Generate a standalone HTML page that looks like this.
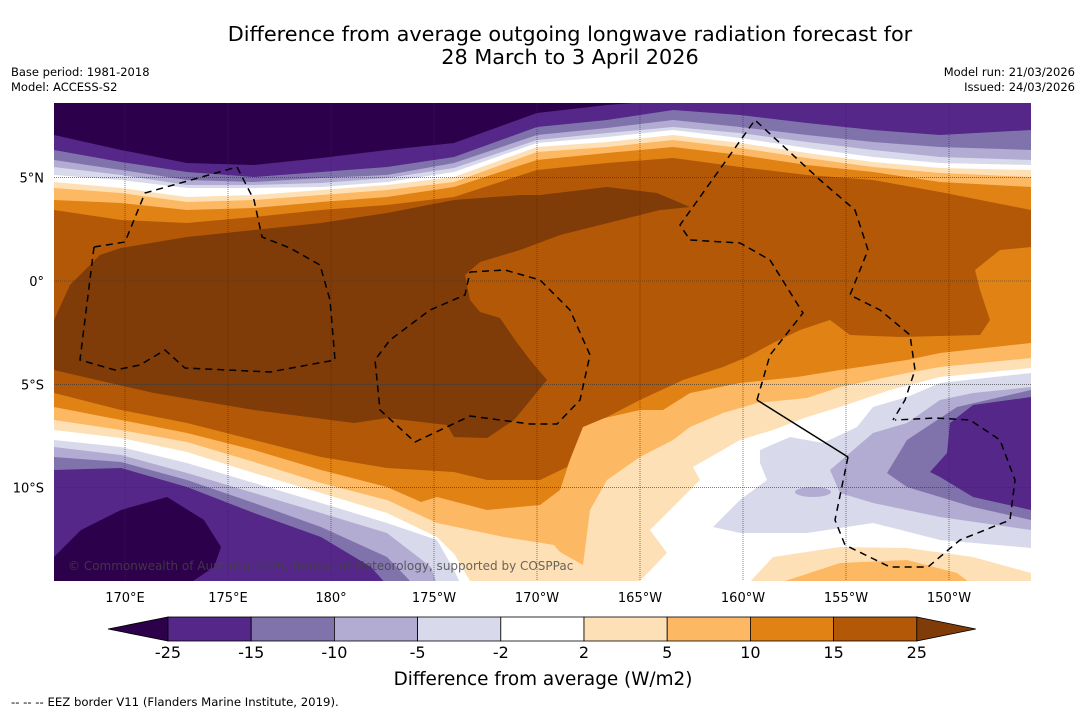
<!DOCTYPE html>
<html><head><meta charset="utf-8">
<style>
body{margin:0;background:#fff;width:1085px;height:713px;overflow:hidden;font-family:"DejaVu Sans","Liberation Sans",sans-serif}
svg{position:absolute;left:0;top:0;font-family:"DejaVu Sans","Liberation Sans",sans-serif}
</style></head>
<body>
<svg id="chart" width="1085" height="713" viewBox="0 0 1085 713">
<defs><clipPath id="mapclip"><rect x="54" y="103" width="977" height="478"/></clipPath></defs>
<text x="570" y="41" font-size="20.8" text-anchor="middle">Difference from average outgoing longwave radiation forecast for</text>
<text x="570" y="64" font-size="20.8" text-anchor="middle">28 March to 3 April 2026</text>
<text x="11" y="76" font-size="11.5">Base period: 1981-2018</text>
<text x="11" y="91" font-size="11.5">Model: ACCESS-S2</text>
<text x="1075" y="76" font-size="11.5" text-anchor="end">Model run: 21/03/2026</text>
<text x="1075" y="91" font-size="11.5" text-anchor="end">Issued: 24/03/2026</text>
<g id="map" clip-path="url(#mapclip)"></g>
<g id="axes"></g>
<g id="cbar"></g>
<text x="543" y="685" font-size="18.4" text-anchor="middle">Difference from average (W/m2)</text>
<text x="11" y="706" font-size="11.7">--  --  -- EEZ border V11 (Flanders Marine Institute, 2019).</text>
</svg>
<script>
const NS="http://www.w3.org/2000/svg";
// ---- data arrays ----
const lonTicks=[170,175,180,185,190,195,200,205,210];
const lonLabels=["170°E","175°E","180°","175°W","170°W","165°W","160°W","155°W","150°W"];
const latTicks=[5,0,-5,-10];
const latLabels=["5°N","0°","5°S","10°S"];
const cbarLevels=[-25,-15,-10,-5,-2,2,5,10,15,25];
const cbarColors=["#542788","#8073ac","#b2abd2","#d8daeb","#ffffff","#fee0b6","#fdb863","#e08214","#b35806"];
const cbarLow="#2d004b", cbarHigh="#7f3b08";
const topX=[54,121,187,254,321,387,454,537,607,673,740,807,873,940,1031];
const topBands=[
 ["#e08214",[210,220,223,217,210,205,197,170,163,158,167,175,180,192,210]],
 ["#fdb863",[200,203,210,208,202,197,187,160,153,147,155,165,172,182,187]],
 ["#fee0b6",[188,193,202,200,195,190,182,152,147,140,148,158,167,173,177]],
 ["#ffffff",[182,188,197,195,190,185,177,147,142,135,143,153,162,168,170]],
 ["#d8daeb",[175,180,188,188,187,182,172,143,137,130,138,148,157,163,165]],
 ["#b2abd2",[167,175,185,185,183,178,168,140,133,127,133,142,150,157,160]],
 ["#8073ac",[160,170,180,182,178,175,163,135,128,120,127,135,142,147,150]],
 ["#542788",[150,162,172,177,172,167,157,127,120,110,115,123,130,135,130]],
 ["#2d004b",[135,150,163,165,158,150,143,113,105,100,100,100,100,100,100]]
];
// ---- axis functions ----
const X0=54,X1=1031,Y0=103,Y1=581;
function xLon(l){return 125+(l-170)*20.6;}
function yLat(l){return 281-l*20.66;}
const map=document.getElementById('map');
function poly(pts,fill,name){
 const p=document.createElementNS(NS,'polygon');
 p.setAttribute('points',pts.map(q=>q.join(',')).join(' '));
 p.setAttribute('fill',fill);
 
 
 map.appendChild(p);return p;}
function line(pts,dash,name){
 const p=document.createElementNS(NS,'polyline');
 p.setAttribute('points',pts.map(q=>q.join(',')).join(' '));
 p.setAttribute('fill','none');p.setAttribute('stroke','#000');p.setAttribute('stroke-width','1.5');
 if(dash)p.setAttribute('stroke-dasharray','7,5');
 
 
 map.appendChild(p);}
map.innerHTML='<rect x="54" y="103" width="977" height="478" fill="#fff"/>';
poly([[54,100],[1031,100],[1031,368],[940,377],[890,390],[840,407],[807,417],[773,430],[740,440],[693,467],[700,480],[650,530],[667,553],[640,581],[470,581],[455,555],[437,537],[387,513],[321,493],[254,473],[187,452],[121,438],[54,430]],"#fee0b6","contour-2-5");
poly([[54,100],[1031,100],[1031,358],[940,367],[907,373],[840,387],[807,398],[757,403],[723,413],[690,427],[673,440],[640,457],[607,480],[590,510],[583,565],[560,552],[554,545],[504,537],[437,523],[387,500],[321,483],[254,462],[187,442],[121,430],[54,420]],"#fdb863","contour-5-10");
poly([[54,100],[1031,100],[1031,343],[940,353],[907,360],[840,370],[797,377],[740,383],[690,393],[663,410],[640,410],[583,423],[570,460],[560,490],[540,505],[487,510],[437,497],[421,502],[387,487],[321,470],[254,450],[187,433],[121,420],[54,407]],"#e08214","contour-10-15");
poly([[54,100],[1031,100],[1031,247],[1000,250],[975,270],[980,290],[990,320],[980,335],[900,337],[850,335],[830,320],[800,330],[773,343],[747,357],[723,367],[683,380],[640,400],[607,417],[583,427],[567,467],[540,480],[487,480],[454,472],[387,468],[321,457],[254,440],[187,423],[121,410],[54,393]],"#b35806","contour-15-25");
poly([[54,320],[70,285],[100,255],[121,248],[187,237],[254,230],[321,223],[387,213],[454,200],[521,195],[540,195],[607,187],[657,193],[690,207],[660,210],[600,225],[560,235],[520,250],[480,262],[465,275],[470,300],[480,312],[500,318],[515,340],[530,360],[547,380],[514,420],[487,438],[454,437],[447,425],[387,418],[354,423],[254,410],[154,393],[97,380],[54,370]],"#7f3b08","contour-above-25");
topBands.forEach(b=>{
 const pts=[[54,90]];topX.forEach((x,i)=>pts.push([x,b[1][i]]));pts.push([1031,90]);
 poly(pts,b[0],"top-band");
});
poly([[54,440],[121,447],[187,463],[254,483],[321,503],[387,523],[437,540],[454,570],[461,585],[54,585]],"#d8daeb","sw-band-5-2");
poly([[54,447],[121,455],[187,473],[254,493],[321,513],[387,533],[431,567],[437,585],[54,585]],"#b2abd2","sw-band-10-5");
poly([[54,457],[121,462],[187,480],[254,503],[321,527],[387,557],[414,585],[54,585]],"#8073ac","sw-band-15-10");
poly([[54,470],[121,468],[187,487],[254,513],[321,537],[371,567],[387,585],[54,585]],"#542788","sw-band-25-15");
poly([[54,557],[81,530],[121,510],[167,497],[204,520],[221,547],[214,567],[187,585],[54,585]],"#2d004b","sw-band-below-25");
poly([[747,585],[773,557],[840,547],[907,548],[973,557],[1031,573],[1031,585]],"#fee0b6","se-band-2-5");
poly([[773,585],[840,563],[907,560],[957,573],[973,585]],"#fdb863","se-band-5-10");
poly([[760,450],[790,437],[823,443],[857,427],[873,407],[907,397],[940,383],[1031,373],[1031,548],[940,540],[873,523],[807,533],[740,533],[713,527],[740,500],[767,480],[760,463]],"#d8daeb","se-band-5-2");
poly([[830,470],[873,433],[907,423],[940,400],[973,393],[1031,387],[1031,530],[940,517],[873,503],[840,493]],"#b2abd2","se-band-10-5");
poly([[887,473],[907,440],[957,407],[1031,390],[1031,520],[973,507],[907,487]],"#8073ac","se-band-15-10");
poly([[930,472],[947,453],[950,423],[973,405],[1031,397],[1031,510],[973,497],[940,477]],"#542788","se-band-25-15");
const el=document.createElementNS(NS,'ellipse');
el.setAttribute('cx','813');el.setAttribute('cy','492');el.setAttribute('rx','18');el.setAttribute('ry','5');el.setAttribute('fill','#b2abd2');


map.appendChild(el);
lonTicks.forEach(l=>{const g=document.createElementNS(NS,'line');
 g.setAttribute('x1',xLon(l));g.setAttribute('x2',xLon(l));g.setAttribute('y1',Y0);g.setAttribute('y2',Y1);
 g.setAttribute('stroke','#333');g.setAttribute('stroke-width','0.6');g.setAttribute('stroke-dasharray','1,1');
 
 
 map.appendChild(g);});
latTicks.forEach(l=>{const g=document.createElementNS(NS,'line');
 g.setAttribute('x1',X0);g.setAttribute('x2',X1);g.setAttribute('y1',yLat(l));g.setAttribute('y2',yLat(l));
 g.setAttribute('stroke','#333');g.setAttribute('stroke-width','0.6');g.setAttribute('stroke-dasharray','1,1');
 
 
 map.appendChild(g);});
line([[94,247],[125,242],[145,193],[237,167],[254,200],[262,237],[290,248],[320,265],[330,300],[335,360],[270,372],[185,368],[165,350],[140,365],[115,370],[80,360],[94,247]],true,"eez-gilbert");
line([[470,272],[505,270],[540,280],[570,310],[590,355],[580,400],[557,424],[530,424],[470,416],[415,442],[380,410],[375,360],[390,340],[430,310],[465,295],[470,272]],true,"eez-phoenix");
line([[757,400],[770,355],[803,313],[770,260],[740,243],[690,240],[680,225],[755,120],[820,180],[855,210],[868,250],[850,295],[880,310],[910,335],[915,370],[905,400],[893,420]],true,"eez-line-islands");
line([[757,400],[848,457]],false,"eez-solid-segment");
line([[848,457],[835,520],[845,545],[890,567],[928,567],[960,540],[1010,520],[1015,480],[1000,440],[970,420],[935,418],[895,420]],true,"eez-cook");
const cr=document.createElementNS(NS,'text');
cr.setAttribute('x','68');cr.setAttribute('y','570');cr.setAttribute('font-size','12');cr.setAttribute('fill','#444');cr.setAttribute('fill-opacity','0.8');
cr.textContent="© Commonwealth of Australia 2026, Bureau of Meteorology, supported by COSPPac";


map.appendChild(cr);
const axes=document.getElementById('axes');
lonTicks.forEach((l,i)=>{const t=document.createElementNS(NS,'text');
 t.setAttribute('x',xLon(l));t.setAttribute('y',602);t.setAttribute('font-size','13');t.setAttribute('text-anchor','middle');
 t.textContent=lonLabels[i];
 
 
 axes.appendChild(t);});
latTicks.forEach((l,i)=>{const t=document.createElementNS(NS,'text');
 t.setAttribute('x',44);t.setAttribute('y',yLat(l)+5);t.setAttribute('font-size','13');t.setAttribute('text-anchor','end');
 t.textContent=latLabels[i];
 
 
 axes.appendChild(t);});
const cb=document.getElementById('cbar');
const cbX0=168,cbW=83.2,cbY=617,cbH=24;
function cbx(i){return cbX0+i*cbW;}
const lt=document.createElementNS(NS,'polygon');
lt.setAttribute('points',`108,${cbY+cbH/2} ${cbx(0)},${cbY} ${cbx(0)},${cbY+cbH}`);
lt.setAttribute('fill',cbarLow);lt.setAttribute('stroke','#000');lt.setAttribute('stroke-width','0.8');


cb.appendChild(lt);
cbarColors.forEach((c,i)=>{const r=document.createElementNS(NS,'rect');
 r.setAttribute('x',cbx(i));r.setAttribute('y',cbY);r.setAttribute('width',cbW);r.setAttribute('height',cbH);
 r.setAttribute('fill',c);r.setAttribute('stroke','#000');r.setAttribute('stroke-width','0.8');
 
 
 cb.appendChild(r);});
const n=cbarColors.length;
const rt=document.createElementNS(NS,'polygon');
rt.setAttribute('points',`${cbx(n)},${cbY} ${cbx(n)+59},${cbY+cbH/2} ${cbx(n)},${cbY+cbH}`);
rt.setAttribute('fill',cbarHigh);rt.setAttribute('stroke','#000');rt.setAttribute('stroke-width','0.8');


cb.appendChild(rt);
cbarLevels.forEach((v,i)=>{const t=document.createElementNS(NS,'text');
 t.setAttribute('x',cbx(i));t.setAttribute('y',658);t.setAttribute('font-size','16');t.setAttribute('text-anchor','middle');
 t.textContent=String(v);
 
 
 cb.appendChild(t);});
</script>
</body></html>
